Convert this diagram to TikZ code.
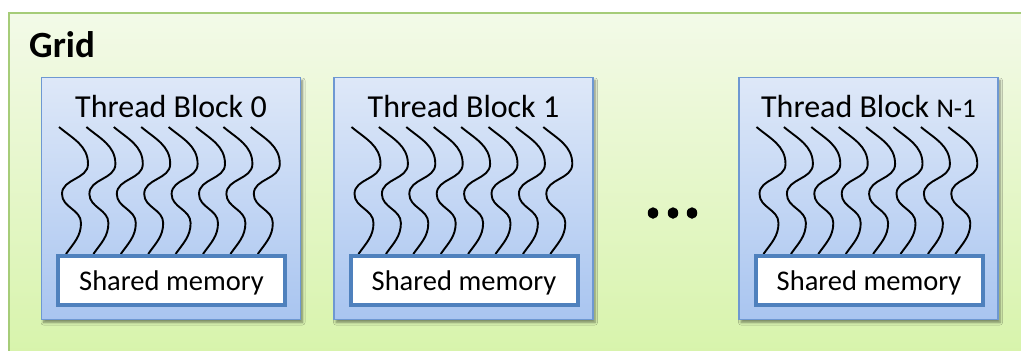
\documentclass[tikz,border=0pt]{standalone}
\usepackage{fontspec}
\setmainfont{Carlito}
\usetikzlibrary{shadows.blur,shapes.geometric}

\definecolor{gridtop}{HTML}{F3FAE8}
\definecolor{gridbot}{HTML}{D6F3A8}
\definecolor{gridline}{HTML}{A6CC78}
\definecolor{blocktop}{HTML}{DEE8F8}
\definecolor{blockbot}{HTML}{A9C5F0}
\definecolor{blockline}{HTML}{6E98D2}
\definecolor{memline}{HTML}{4F81BD}

\tikzset{
  gridbox/.style={draw=gridline, line width=2pt, top color=gridtop, bottom color=gridbot,
    rectangle, anchor=north west, inner sep=0pt},
  blockbox/.style={draw=blockline, line width=1.4pt, top color=blocktop, bottom color=blockbot,
    rectangle, minimum width=259pt, minimum height=242pt, inner sep=0pt,
    blur shadow={shadow xshift=2pt, shadow yshift=-3pt, shadow blur radius=2.5pt,
      shadow blur steps=6, shadow opacity=45}},
  membox/.style={draw=memline, line width=4pt, fill=white, rectangle,
    minimum width=227pt, minimum height=49pt, inner sep=0pt,
    text height=19pt, text depth=0pt,
    font=\fontsize{28.5}{32}\selectfont},
  blocktitle/.style={anchor=base, inner sep=0pt, font=\fontsize{32}{38}\selectfont},
  thread/.style={black, line width=1.9pt},
  dot/.style={ellipse, fill=black, inner sep=0pt, minimum width=10.5pt, minimum height=11.5pt}
}

% one wavy thread, hanging down from its top end
\newcommand{\drawthread}[2]{%
  \draw[thread] (#1,#2) to[out=-40,in=90] ++(29,-37) to[out=-90,in=90] ++(-26,-30)
    to[out=-90,in=90] ++(19,-29) to[out=-90,in=55] ++(-15,-31);}

\begin{document}
\begin{tikzpicture}[x=1pt,y=1pt]
\useasboundingbox (0,0) rectangle (1021,-351);
\fill[white] (0,0) rectangle (1021,-351);
\clip (0,0) rectangle (1021,-351);

% outer grid
\node[gridbox, minimum width=1030pt, minimum height=360pt] (grid) at (8,-12) {};
\node[anchor=base west, inner sep=0pt, font=\bfseries\fontsize{37}{44}\selectfont]
  (gridlabel) at (29,-57) {Grid};

% thread blocks
\foreach \n/\cx/\ttl in {b0/171/{Thread Block 0}, b1/463.5/{Thread Block 1},
    bn/868.5/{Thread Block {\fontsize{27}{30}\selectfont N-1}}}{
  \node[blockbox] (\n) at (\cx,-198.5) {};
  \node[blocktitle] (\n-title) at (\cx,-117) {\ttl};
  \foreach \i in {0,...,7}{
    \pgfmathsetmacro{\tx}{\cx-130+18+27.4*\i}
    \drawthread{\tx}{-127}
  }
  \node[membox] (\n-mem) at (\cx+0.5,-280.5) {Shared memory};
}

% ellipsis between blocks
\node[dot] (d1) at (653,-213) {};
\node[dot] (d2) at (673,-213) {};
\node[dot] (d3) at (692,-213) {};
\end{tikzpicture}
\end{document}
